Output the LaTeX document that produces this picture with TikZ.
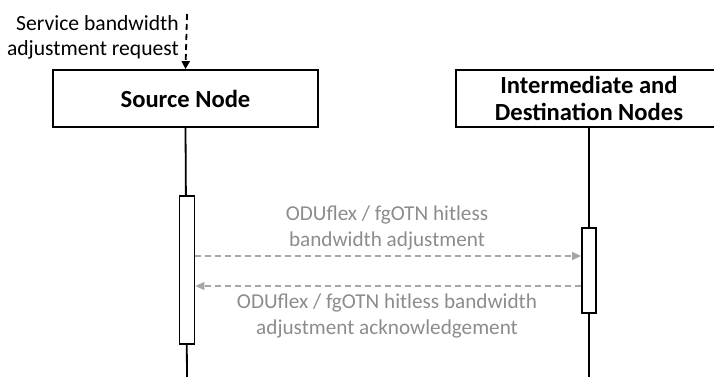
\documentclass[tikz,border=0pt]{standalone}
\usepackage{fontspec}
\setmainfont{Carlito}
\usetikzlibrary{arrows.meta}
\definecolor{msggray}{HTML}{A6A6A6}
\definecolor{msgtext}{HTML}{8C8C8C}
\tikzset{
  lifebox/.style={draw, line width=1.8pt, fill=white, inner sep=0pt, font=\bfseries\fontsize{24.6}{27}\selectfont, align=center},
  lifeline/.style={line width=1.8pt},
  actbar/.style={draw, line width=1.8pt, fill=white, inner sep=0pt},
  msg/.style={draw=msggray, line width=1.5pt, dash pattern=on 6pt off 4pt, -{Triangle[length=9pt,width=8pt]}},
  msglabel/.style={text=msgtext, font=\fontsize{21.2}{26}\selectfont, align=center, inner sep=0pt},
  reqlabel/.style={font=\fontsize{21.6}{25}\selectfont, align=right, inner sep=0pt}
}
\begin{document}
\begin{tikzpicture}[x=1pt,y=-1pt]
\useasboundingbox (0,0) rectangle (714,377);
\clip (0,0) rectangle (714,377);

% participants
\node[lifebox, minimum width=265pt, minimum height=57pt] (src) at (185.5,98.5) {Source Node};
\node[lifebox, minimum width=266pt, minimum height=57pt] (dst) at (589,98.5) {Intermediate and\\Destination Nodes};

% lifelines
\coordinate (srcend) at (187,380);
\coordinate (dstend) at (589,380);
\draw[lifeline] (src.south) -- (srcend);
\draw[lifeline] (dst.south) -- (dstend);

% activation bars
\node[actbar, minimum width=15pt, minimum height=148pt] (srcact) at (187,270) {};
\node[actbar, minimum width=14pt, minimum height=85pt] (dstact) at (589,270.5) {};

% incoming request
\coordinate (reqstart) at (187,14);
\draw[line width=1.8pt, dash pattern=on 6pt off 4pt, -{Triangle[length=8pt,width=8pt]}] (reqstart) -- (src.north);
\node[reqlabel, anchor=east] (req) at (179,37) {Service bandwidth\\adjustment request};

% messages
\coordinate (m1a) at (srcact.east |- 0,256);
\coordinate (m1b) at (dstact.west |- 0,256);
\coordinate (m2a) at (dstact.west |- 0,286);
\coordinate (m2b) at (srcact.east |- 0,286);
\draw[msg] (m1a) -- (m1b);
\draw[msg] (m2a) -- (m2b);
\node[msglabel] (l1) at (387,228) {ODUflex / fgOTN hitless\\bandwidth adjustment};
\node[msglabel] (l2) at (387,316) {ODUflex / fgOTN hitless bandwidth\\adjustment acknowledgement};
\end{tikzpicture}
\end{document}
